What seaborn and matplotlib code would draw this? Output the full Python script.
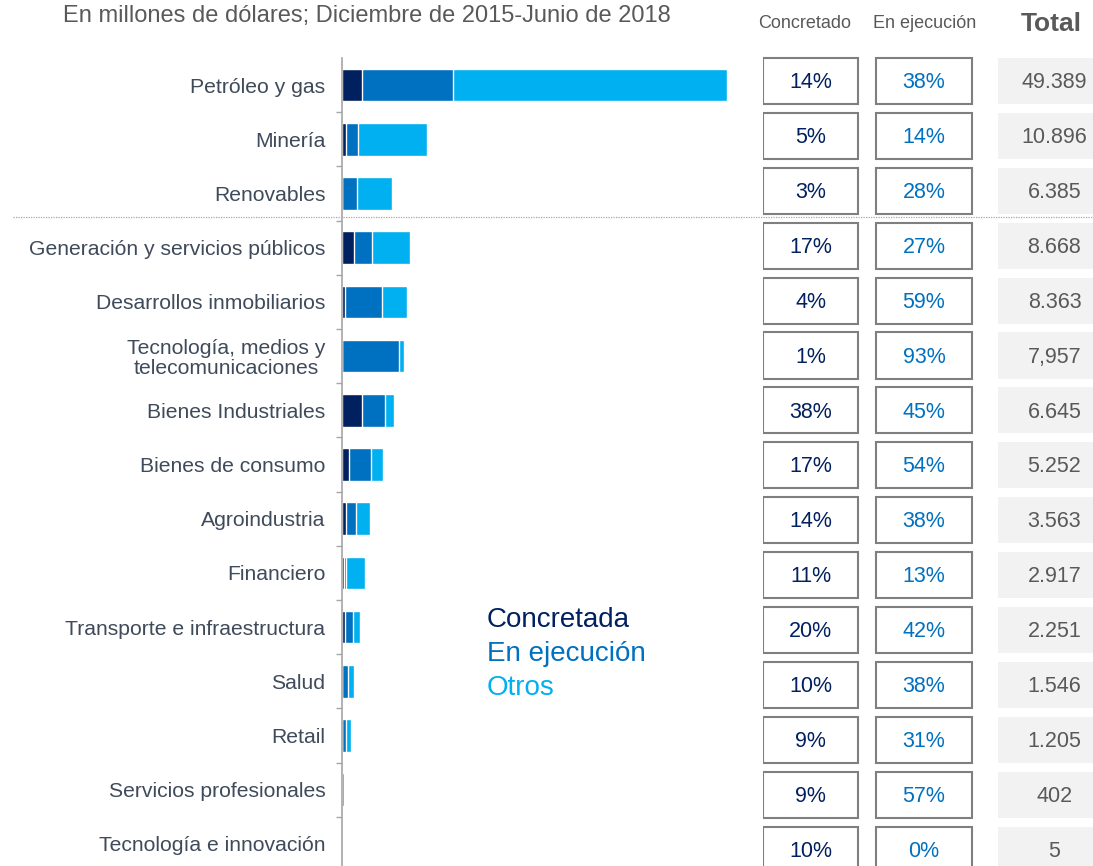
import pandas as pd
import matplotlib.pyplot as plt
import seaborn as sns
from matplotlib.lines import Line2D
from matplotlib.patches import Rectangle

# Data (millones de USD)
sectores = ['Petróleo y gas', 'Minería', 'Renovables', 'Generación y servicios públicos',
            'Desarrollos inmobiliarios', 'Tecnología, medios y\ntelecomunicaciones',
            'Bienes Industriales', 'Bienes de consumo', 'Agroindustria', 'Financiero',
            'Transporte e infraestructura', 'Salud', 'Retail', 'Servicios profesionales',
            'Tecnología e innovación']
concretada = [2570, 510, 60, 1530, 380, 50, 2540, 900, 500, 300, 380, 40, 20, 30, 0]
en_ejecucion = [11680, 1540, 1900, 2290, 4800, 7300, 2950, 2815, 1270, 250, 1000, 720, 470, 200, 0]
otros = [35139, 8846, 4425, 4848, 3183, 607, 1155, 1537, 1793, 2367, 871, 786, 715, 172, 5]
pct_concretado = ['14%', '5%', '3%', '17%', '4%', '1%', '38%', '17%', '14%', '11%', '20%', '10%', '9%', '9%', '10%']
pct_ejecucion = ['38%', '14%', '28%', '27%', '59%', '93%', '45%', '54%', '38%', '13%', '42%', '38%', '31%', '57%', '0%']
totales = ['49.389', '10.896', '6.385', '8.668', '8.363', '7,957', '6.645', '5.252', '3.563',
           '2.917', '2.251', '1.546', '1.205', '402', '5']

NAVY = '#002060'
MID = '#0070C0'
LIGHT = '#00B0F0'
LABEL = '#3F4A5A'
GRAY = '#595959'

sns.set_theme(style='white')
plt.rcParams['font.family'] = ['Liberation Sans', 'DejaVu Sans']

df = pd.DataFrame({'sector': sectores, 'c': concretada, 'e': en_ejecucion, 'o': otros})
df['s1'] = df['c']
df['s2'] = df['s1'] + df['e']
df['s3'] = df['s2'] + df['o']

W, H = 1093, 866
fig = plt.figure(figsize=(W / 100, H / 100), dpi=100)


def px_axes(x0, y0, x1, y1):
    return fig.add_axes([x0 / W, 1 - y1 / H, (x1 - x0) / W, (y1 - y0) / H])


# stacked bars: draw cumulative totals on top of each other
ax = px_axes(342, 58, 742, 871)
for col, color in [('s3', LIGHT), ('s2', MID), ('s1', NAVY)]:
    sns.barplot(data=df, y='sector', x=col, orient='h', color=color, saturation=1,
                width=0.6, ax=ax)
ax.set_xlim(0, 51320)
ax.set_ylim(len(sectores) - 0.5, -0.5)
ax.set_xlabel('')
ax.set_ylabel('')
ax.set_xticks([])
for s in ['top', 'right', 'bottom']:
    ax.spines[s].set_visible(False)
ax.spines['left'].set_color('#A6A6A6')
ax.spines['left'].set_linewidth(1.2)
ax.tick_params(axis='y', which='major', length=0, pad=12, labelsize=15.2, labelcolor=LABEL)
ax.set_yticks([i + 0.5 for i in range(len(sectores) - 1)], minor=True)
ax.tick_params(axis='y', which='minor', length=4.5, width=1, color='#A6A6A6', left=True)
for t in ax.get_yticklabels():
    t.set_multialignment('center')
    t.set_linespacing(1.05)

# separator dotted line
fig.add_artist(Line2D([13 / W, 1], [1 - 217 / H] * 2, transform=fig.transFigure,
                      color='#A6A6A6', lw=0.9, ls=(0, (1, 1))))

# table
at = px_axes(763, 81 - 27.45, 1093, 81 + 54.9 * 14.5)
at.set_xlim(0, 330)
at.set_ylim(len(sectores) - 0.5, -0.5)
at.axis('off')
bh = 0.84
for i in range(len(sectores)):
    at.add_patch(Rectangle((0, i - bh / 2), 95, bh, facecolor='white', edgecolor='#7F7F7F', lw=1.5))
    at.add_patch(Rectangle((113, i - bh / 2), 96, bh, facecolor='white', edgecolor='#7F7F7F', lw=1.5))
    at.add_patch(Rectangle((235, i - bh / 2), 100, bh, facecolor='#F2F2F2', edgecolor='none',
                           clip_on=False))
    at.text(47.5, i + 0.03, pct_concretado[i], ha='center', va='center', fontsize=15.5, color=NAVY)
    at.text(161, i + 0.03, pct_ejecucion[i], ha='center', va='center', fontsize=15.5, color=MID)
    at.text(291.5, i + 0.03, totales[i], ha='center', va='center', fontsize=15.5, color=GRAY)

# headers
fig.text(805 / W, 1 - 24 / H, 'Concretado', ha='center', va='center', fontsize=13, color=GRAY)
fig.text(924.5 / W, 1 - 24 / H, 'En ejecución', ha='center', va='center', fontsize=13, color=GRAY)
fig.text(1051 / W, 1 - 24 / H, 'Total', ha='center', va='center', fontsize=19, color=GRAY,
         fontweight='bold')
fig.text(63 / W, 1 - 16 / H, 'En millones de dólares; Diciembre de 2015-Junio de 2018',
         ha='left', va='center', fontsize=17, color=GRAY)

# legend as colored text
for k, (lab, col) in enumerate([('Concretada', NAVY), ('En ejecución', MID), ('Otros', LIGHT)]):
    fig.text(487 / W, 1 - (620 + 34 * k) / H, lab, ha='left', va='center', fontsize=20, color=col)

fig.savefig('out.png', dpi=100)
